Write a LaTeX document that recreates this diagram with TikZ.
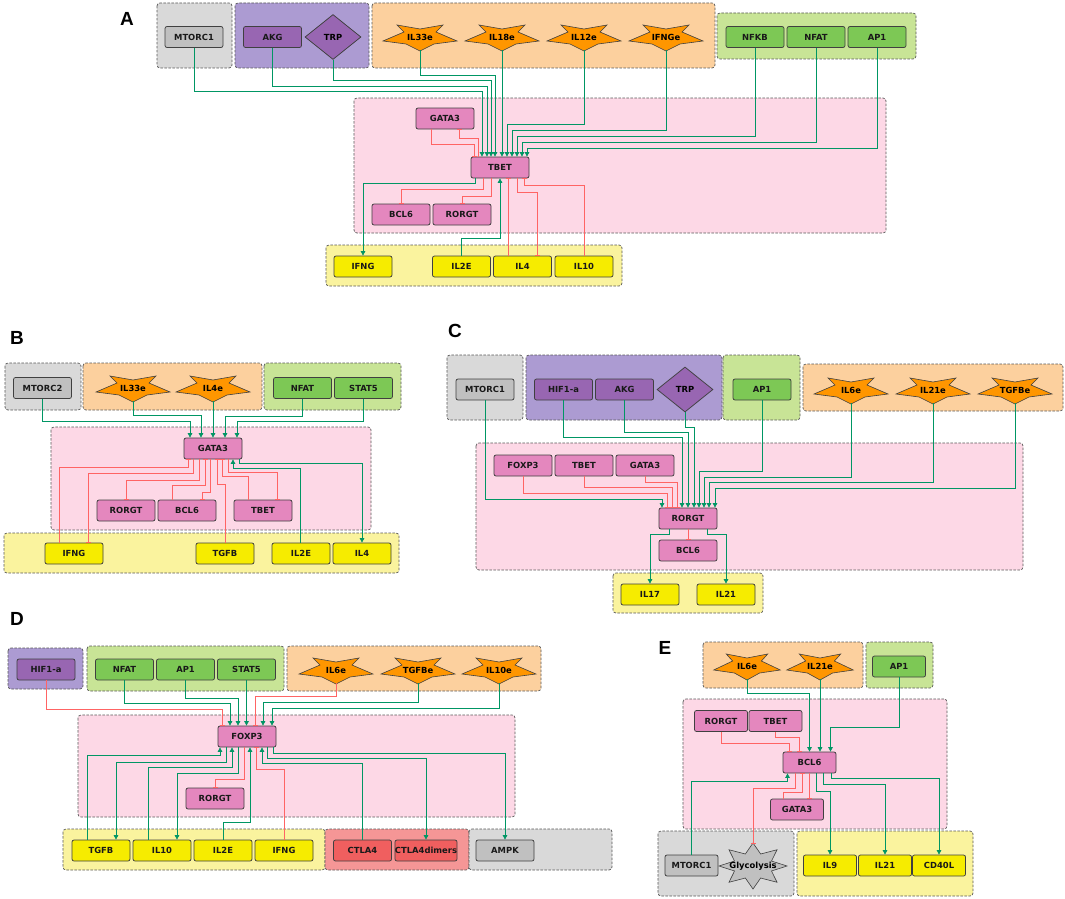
\documentclass[tikz,border=0pt]{standalone}
\usepackage{fontspec}
\setmainfont{DejaVu Sans}
\newfontfamily\panelfont{Liberation Sans}
\usetikzlibrary{arrows.meta,shapes.geometric}

\definecolor{grpgrey}{RGB}{217,217,217}
\definecolor{grppurple}{RGB}{172,155,210}
\definecolor{grporange}{RGB}{252,208,158}
\definecolor{grpgreen}{RGB}{200,228,150}
\definecolor{grppink}{RGB}{253,216,230}
\definecolor{grpyellow}{RGB}{250,243,158}
\definecolor{grpred}{RGB}{245,150,150}
\definecolor{nodegrey}{RGB}{192,192,192}
\definecolor{nodepurple}{RGB}{152,102,178}
\definecolor{nodeorange}{RGB}{255,150,0}
\definecolor{nodegreen}{RGB}{125,200,85}
\definecolor{nodepink}{RGB}{228,135,190}
\definecolor{nodeyellow}{RGB}{246,236,0}
\definecolor{nodered}{RGB}{240,95,95}
\definecolor{linegreen}{RGB}{0,150,100}
\definecolor{linered}{RGB}{255,100,100}

\tikzset{
  grp/.style={draw=black!65, dash pattern=on 2.5pt off 1.5pt, line width=0.7pt, rounded corners=3pt},
  gene/.style={draw=black!75, line width=0.75pt, rounded corners=2pt, minimum width=58pt, minimum height=21pt,
    inner sep=0pt, font=\fontsize{8.4}{10}\selectfont\bfseries, text=black!90},
  boxgrey/.style={gene, fill=nodegrey},
  boxpurple/.style={gene, fill=nodepurple},
  boxgreen/.style={gene, fill=nodegreen},
  boxpink/.style={gene, fill=nodepink},
  boxyellow/.style={gene, fill=nodeyellow},
  boxred/.style={gene, fill=nodered},
  ewide/.style={minimum width=53pt},
  diam/.style={diamond, draw=black!75, fill=nodepurple, line width=0.75pt, minimum width=56pt, minimum height=45pt,
    inner sep=0pt, font=\fontsize{8.4}{10}\selectfont\bfseries},
  starline/.style={draw=black!75, fill=nodeorange, line width=0.6pt},
  startxt/.style={minimum width=74pt, minimum height=26pt, inner sep=0pt, font=\fontsize{8.4}{10}\selectfont\bfseries},
  glyc/.style={draw=black!75, fill=nodegrey, line width=0.6pt},
  glyctxt/.style={minimum width=66pt, minimum height=44pt, inner sep=0pt, font=\fontsize{8.4}{10}\selectfont\bfseries},
  lbl/.style={font=\panelfont\bfseries\fontsize{19}{20}\selectfont}
}

% cytokine star: [xscale]{name}{x,y}{text}
\newcommand{\cytostar}[4][1]{%
  \draw[starline, shift={(#3)}, xscale=#1] (-37,4) -- (-16,-5) -- (-23,-12) -- (0,-8) -- (23,-12) -- (16,-5)
    -- (37,4) -- (14,7) -- (0,14) -- (-14,7) -- cycle;
  \node[startxt] (#2) at (#3) {#4};}

\begin{document}
\begin{tikzpicture}[x=1pt, y=-1pt,
  act/.style={draw=linegreen, line width=0.75pt, -{Triangle[length=4.5pt,width=4.5pt]}},
  inh/.style={draw=linered, line width=0.75pt, -{Bar[width=5pt,line width=0.9pt]}}]
\useasboundingbox (0,0) rectangle (1065,899);

% Grupos
\draw[grp, fill=grpgrey] (157,3) rectangle (232,68);
\draw[grp, fill=grppurple] (235,3) rectangle (369,68);
\draw[grp, fill=grporange] (372,3) rectangle (715,68);
\draw[grp, fill=grpgreen] (717,13) rectangle (916,59);
\draw[grp, fill=grppink] (354,98) rectangle (886,233);
\draw[grp, fill=grpyellow] (326,245) rectangle (622,286);

\draw[grp, fill=grpgrey] (5,363) rectangle (81,410);
\draw[grp, fill=grporange] (83,363) rectangle (262,410);
\draw[grp, fill=grpgreen] (264,363) rectangle (401,410);
\draw[grp, fill=grppink] (51,427) rectangle (371,530);
\draw[grp, fill=grpyellow] (4,533) rectangle (399,573);

\draw[grp, fill=grpgrey] (447,355) rectangle (523,420);
\draw[grp, fill=grppurple] (526,355) rectangle (722,420);
\draw[grp, fill=grpgreen] (723,355) rectangle (800,420);
\draw[grp, fill=grporange] (803,364) rectangle (1063,411);
\draw[grp, fill=grppink] (476,443) rectangle (1023,570);
\draw[grp, fill=grpyellow] (613,573) rectangle (763,613);

\draw[grp, fill=grppurple] (8,648) rectangle (83,689);
\draw[grp, fill=grpgreen] (87,646) rectangle (284,691);
\draw[grp, fill=grporange] (287,646) rectangle (541,691);
\draw[grp, fill=grppink] (78,715) rectangle (515,817);
\draw[grp, fill=grpyellow] (63,829) rectangle (325,870);
\draw[grp, fill=grpred] (325,829) rectangle (469,870);
\draw[grp, fill=grpgrey] (469,829) rectangle (612,870);

\draw[grp, fill=grporange] (703,642) rectangle (863,688);
\draw[grp, fill=grpgreen] (866,642) rectangle (933,688);
\draw[grp, fill=grppink] (683,699) rectangle (947,829);
\draw[grp, fill=grpgrey] (658,831) rectangle (794,896);
\draw[grp, fill=grpyellow] (797,831) rectangle (973,896);

% Rotulos
\node[lbl] (labA) at (127,19) {A};
\node[lbl] (labB) at (17,338) {B};
\node[lbl] (labC) at (455,331) {C};
\node[lbl] (labD) at (17,619) {D};
\node[lbl] (labE) at (665,648) {E};

% Painel A
\node[boxgrey] (mtorcA) at (194,37) {MTORC1};
\node[boxpurple] (akgA) at (272.5,37) {AKG};
\node[diam] (trpA) at (333,37) {TRP};
\cytostar{il33eA}{420,37}{IL33e}
\cytostar{il18eA}{502,37}{IL18e}
\cytostar{il12eA}{584,37}{IL12e}
\cytostar{ifngeA}{666,37}{IFNGe}
\node[boxgreen] (nfkbA) at (755,37) {NFKB};
\node[boxgreen] (nfatA) at (816,37) {NFAT};
\node[boxgreen] (ap1A) at (877,37) {AP1};
\node[boxpink] (gata3A) at (445,118.5) {GATA3};
\node[boxpink] (tbetA) at (500,167.5) {TBET};
\node[boxpink] (bcl6A) at (401,214.5) {BCL6};
\node[boxpink] (rorgtA) at (462,214.5) {RORGT};
\node[boxyellow] (ifngA) at (363,266.5) {IFNG};
\node[boxyellow] (il2eA) at (461.5,266.5) {IL2E};
\node[boxyellow] (il4A) at (522.5,266.5) {IL4};
\node[boxyellow] (il10A) at (584,266.5) {IL10};

\draw[act] (mtorcA.south) -- ++(0,43.5) -| ([xshift=-18pt]tbetA.north);
\draw[act] (akgA.south) -- ++(0,38.5) -| ([xshift=-13pt]tbetA.north);
\draw[act] (trpA.south) -- ++(0,20.5) -| ([xshift=-9pt]tbetA.north);
\draw[act] (il33eA.south) -- ++(0,25) -| ([xshift=-5pt]tbetA.north);
\draw[act] (il18eA.south) -- ([xshift=2pt]tbetA.north);
\draw[act] (il12eA.south) -- ++(0,74) -| ([xshift=7pt]tbetA.north);
\draw[act] (ifngeA.south) -- ++(0,80) -| ([xshift=12pt]tbetA.north);
\draw[act] (nfkbA.south) -- ++(0,88.5) -| ([xshift=17pt]tbetA.north);
\draw[act] (nfatA.south) -- ++(0,94.5) -| ([xshift=22pt]tbetA.north);
\draw[act] (ap1A.south) -- ++(0,100.5) -| ([xshift=27pt]tbetA.north);
\draw[inh] ([xshift=-14pt]gata3A.south) -- ++(0,15) -| ([xshift=-26pt]tbetA.north);
\draw[inh] ([xshift=-22pt]tbetA.north) -- ++(0,-18) -| ([xshift=14pt]gata3A.south);
\draw[act] ([xshift=-25pt]tbetA.south) -- ++(0,5) -| (ifngA.north);
\draw[inh] ([xshift=-17pt]tbetA.south) -- ++(0,11) -| (bcl6A.north);
\draw[inh] ([xshift=-9pt]tbetA.south) -- ++(0,18) -| (rorgtA.north);
\draw[act] (il2eA.north) -- ++(0,-17) -| (tbetA.south);
\draw[inh] ([xshift=-14pt]il4A.north) -- ([xshift=8.5pt]tbetA.south);
\draw[inh] ([xshift=17pt]tbetA.south) -- ++(0,14) -| ([xshift=15pt]il4A.north);
\draw[inh] (il10A.north) -- ++(0,-70) -| ([xshift=24pt]tbetA.south);

% Painel B
\node[boxgrey] (mtorc2B) at (42.5,388) {MTORC2};
\cytostar{il33eB}{133,388}{IL33e}
\cytostar{il4eB}{213,388}{IL4e}
\node[boxgreen] (nfatB) at (302.5,388) {NFAT};
\node[boxgreen] (stat5B) at (363.5,388) {STAT5};
\node[boxpink] (gata3B) at (213,448.5) {GATA3};
\node[boxpink] (rorgtB) at (126,510.5) {RORGT};
\node[boxpink] (bcl6B) at (187,510.5) {BCL6};
\node[boxpink] (tbetB) at (263,510.5) {TBET};
\node[boxyellow] (ifngB) at (74,553.5) {IFNG};
\node[boxyellow] (tgfbB) at (225,553.5) {TGFB};
\node[boxyellow] (il2eB) at (301,553.5) {IL2E};
\node[boxyellow] (il4B) at (362,553.5) {IL4};

\draw[act] (mtorc2B.south) -- ++(0,22.5) -| ([xshift=-23pt]gata3B.north);
\draw[act] (il33eB.south) -- ++(0,14) -| ([xshift=-12pt]gata3B.north);
\draw[act] (il4eB.south) -- (gata3B.north);
\draw[act] (nfatB.south) -- ++(0,17.5) -| ([xshift=12pt]gata3B.north);
\draw[act] (stat5B.south) -- ++(0,22.5) -| ([xshift=24pt]gata3B.north);
\draw[inh] ([xshift=-15pt]ifngB.north) -- ++(0,-75) -| ([xshift=-25pt]gata3B.south);
\draw[inh] ([xshift=-20pt]gata3B.south) -- ++(0,14) -| ([xshift=14pt]ifngB.north);
\draw[inh] ([xshift=-14pt]gata3B.south) -- ++(0,21) -| (rorgtB.north);
\draw[inh] ([xshift=-15pt]bcl6B.north) -- ++(0,-14) -| ([xshift=-8pt]gata3B.south);
\draw[inh] ([xshift=-3pt]gata3B.south) -- ++(0,33) -| ([xshift=15pt]bcl6B.north);
\draw[inh] (tgfbB.north) -- ++(0,-58) -| ([xshift=4pt]gata3B.south);
\draw[inh] ([xshift=-15pt]tbetB.north) -- ++(0,-23) -| ([xshift=9pt]gata3B.south);
\draw[inh] ([xshift=15pt]gata3B.south) -- ++(0,13) -| ([xshift=14pt]tbetB.north);
\draw[act] ([xshift=-1pt]il2eB.north) -- ++(0,-74) -| ([xshift=20pt]gata3B.south);
\draw[act] ([xshift=26pt]gata3B.south) -- ++(0,4) -| (il4B.north);

% Painel C
\node[boxgrey] (mtorcC) at (485,389.5) {MTORC1};
\node[boxpurple] (hifC) at (563.5,389.5) {HIF1-a};
\node[boxpurple] (akgC) at (624.5,389.5) {AKG};
\node[diam] (trpC) at (685,389.5) {TRP};
\node[boxgreen] (ap1C) at (762,389.5) {AP1};
\cytostar{il6eC}{851,390}{IL6e}
\cytostar{il21eC}{933,390}{IL21e}
\cytostar{tgfbeC}{1015,390}{TGFBe}
\node[boxpink] (foxp3C) at (523,465.5) {FOXP3};
\node[boxpink] (tbetC) at (584,465.5) {TBET};
\node[boxpink] (gata3C) at (645,465.5) {GATA3};
\node[boxpink] (rorgtC) at (688,518.5) {RORGT};
\node[boxpink] (bcl6C) at (688,550.5) {BCL6};
\node[boxyellow] (il17C) at (650,594.5) {IL17};
\node[boxyellow] (il21C) at (726,594.5) {IL21};

\draw[act] (mtorcC.south) -- ++(0,99) -| ([xshift=-26pt]rorgtC.north);
\draw[inh] (foxp3C.south) -- ++(0,17) -| ([xshift=-21pt]rorgtC.north);
\draw[inh] (tbetC.south) -- ++(0,11) -| ([xshift=-16pt]rorgtC.north);
\draw[inh] (gata3C.south) -- ++(0,6) -| ([xshift=-11pt]rorgtC.north);
\draw[act] (hifC.south) -- ++(0,37) -| ([xshift=-6pt]rorgtC.north);
\draw[act] (akgC.south) -- ++(0,32) -| (rorgtC.north);
\draw[act] (trpC.south) -- ++(0,15) -| ([xshift=6pt]rorgtC.north);
\draw[act] (ap1C.south) -- ++(0,71) -| ([xshift=11pt]rorgtC.north);
\draw[act] (il6eC.south) -- ++(0,74) -| ([xshift=16pt]rorgtC.north);
\draw[act] (il21eC.south) -- ++(0,79) -| ([xshift=21pt]rorgtC.north);
\draw[act] (tgfbeC.south) -- ++(0,85) -| ([xshift=27pt]rorgtC.north);
\draw[act] ([xshift=-19pt]rorgtC.south) -- ++(0,5) -| (il17C.north);
\draw[inh] (rorgtC.south) -- (bcl6C.north);
\draw[act] ([xshift=19pt]rorgtC.south) -- ++(0,5) -| (il21C.north);

% Painel D
\node[boxpurple] (hifD) at (46,669.5) {HIF1-a};
\node[boxgreen] (nfatD) at (124.5,669.5) {NFAT};
\node[boxgreen] (ap1D) at (185.5,669.5) {AP1};
\node[boxgreen] (stat5D) at (246.5,669.5) {STAT5};
\cytostar{il6eD}{336,670}{IL6e}
\cytostar{tgfbeD}{418,670}{TGFBe}
\cytostar{il10eD}{499,670}{IL10e}
\node[boxpink] (foxp3D) at (247,736.5) {FOXP3};
\node[boxpink] (rorgtD) at (215,798.5) {RORGT};
\node[boxyellow] (tgfbD) at (101,850.5) {TGFB};
\node[boxyellow] (il10D) at (162,850.5) {IL10};
\node[boxyellow] (il2eD) at (223,850.5) {IL2E};
\node[boxyellow] (ifngD) at (284,850.5) {IFNG};
\node[boxred] (ctla4D) at (362.5,850.5) {CTLA4};
\node[boxred] (ctla4dD) at (426,850.5) {CTLA4dimers};
\node[boxgrey] (ampkD) at (505,850.5) {AMPK};

\draw[inh] (hifD.south) -- ++(0,29) -| ([xshift=-25pt]foxp3D.north);
\draw[act] (nfatD.south) -- ++(0,23) -| ([xshift=-17pt]foxp3D.north);
\draw[act] (ap1D.south) -- ++(0,18) -| ([xshift=-9pt]foxp3D.north);
\draw[act] (stat5D.south) -- (stat5D.south |- foxp3D.north);
\draw[inh] (il6eD.south) -- ++(0,13) -| ([xshift=8pt]foxp3D.north);
\draw[act] (tgfbeD.south) -- ++(0,19) -| ([xshift=16pt]foxp3D.north);
\draw[act] (il10eD.south) -- ++(0,25) -| ([xshift=25pt]foxp3D.north);
\draw[act] ([xshift=-14pt]tgfbD.north) -- ++(0,-84) -| ([xshift=-27pt]foxp3D.south);
\draw[act] ([xshift=-21pt]foxp3D.south) -- ++(0,15) -| ([xshift=15pt]tgfbD.north);
\draw[act] ([xshift=-14pt]il10D.north) -- ++(0,-72) -| ([xshift=-15pt]foxp3D.south);
\draw[act] ([xshift=-9pt]foxp3D.south) -- ++(0,26) -| ([xshift=15pt]il10D.north);
\draw[inh] ([xshift=-3pt]foxp3D.south) -- ++(0,32) -| (rorgtD.north);
\draw[act] (il2eD.north) -- ++(0,-17) -| ([xshift=3pt]foxp3D.south);
\draw[inh] (ifngD.north) -- ++(0,-70) -| ([xshift=9pt]foxp3D.south);
\draw[act] (ctla4D.north) -- ++(0,-76) -| ([xshift=15pt]foxp3D.south);
\draw[act] ([xshift=20pt]foxp3D.south) -- ++(0,11) -| (ctla4dD.north);
\draw[act] ([xshift=26pt]foxp3D.south) -- ++(0,6) -| (ampkD.north);

% Painel E
\cytostar[0.9]{il6eE}{747,666}{IL6e}
\cytostar[0.9]{il21eE}{820,666}{IL21e}
\node[boxgreen, ewide] (ap1E) at (899,666.5) {AP1};
\node[boxpink, ewide] (rorgtE) at (721,721) {RORGT};
\node[boxpink, ewide] (tbetE) at (775.5,721) {TBET};
\node[boxpink, ewide] (bcl6E) at (809.5,762.5) {BCL6};
\node[boxpink, ewide] (gata3E) at (797,809.5) {GATA3};
\node[boxgrey, ewide] (mtorcE) at (691.5,865.5) {MTORC1};
\draw[glyc, shift={(753,866)}] (0:34 and 23)
  \foreach \a in {0,45,...,315} { -- ({\a+22.5}:20 and 13) -- ({\a+45}:34 and 23)} -- cycle;
\node[glyctxt] (glycE) at (753,866) {Glycolysis};
\node[boxyellow, ewide] (il9E) at (830,865.5) {IL9};
\node[boxyellow, ewide] (il21E) at (885,865.5) {IL21};
\node[boxyellow, ewide] (cd40lE) at (939,865.5) {CD40L};

\draw[inh] (rorgtE.south) -- ++(0,11.5) -| ([xshift=-20pt]bcl6E.north);
\draw[inh] (tbetE.south) -- ++(0,5.5) -| ([xshift=-10pt]bcl6E.north);
\draw[act] (il6eE.south) -- ++(0,14) -| (bcl6E.north);
\draw[act] (il21eE.south) -- (il21eE.south |- bcl6E.north);
\draw[act] (ap1E.south) -- ++(0,50) -| ([xshift=21pt]bcl6E.north);
\draw[act] (mtorcE.north) -- ++(0,-73) -| ([xshift=-22pt]bcl6E.south);
\draw[inh] ([xshift=-14pt]bcl6E.south) -- ++(0,15) -| (glycE.north);
\draw[inh] ([xshift=-14pt]gata3E.north) -- ++(0,-6) -| ([xshift=-7pt]bcl6E.south);
\draw[inh] (bcl6E.south) -- (bcl6E.south |- gata3E.north);
\draw[act] ([xshift=7pt]bcl6E.south) -- ++(0,18) -| (il9E.north);
\draw[act] ([xshift=14pt]bcl6E.south) -- ++(0,11) -| (il21E.north);
\draw[act] ([xshift=22pt]bcl6E.south) -- ++(0,5) -| (cd40lE.north);
\end{tikzpicture}
\end{document}
